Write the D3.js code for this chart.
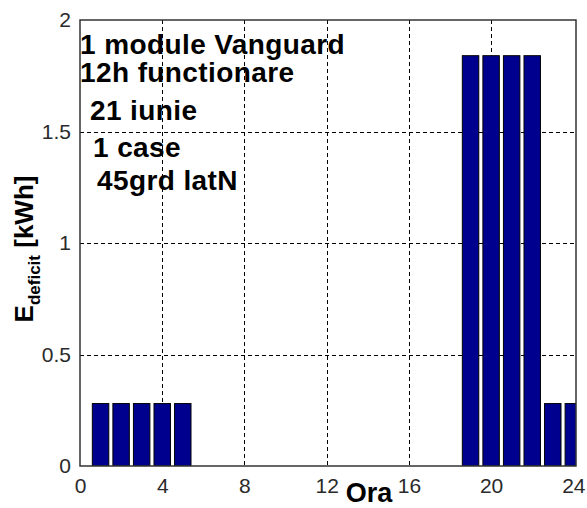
<!DOCTYPE html>
<html>
<head>
<meta charset="utf-8">
<script src="https://cdn.jsdelivr.net/npm/d3@7"></script>
<style>
  html, body { margin: 0; padding: 0; background: #fff; }
  svg { display: block; }
</style>
</head>
<body>
<div id="chart"></div>
<script>
// Hourly energy deficit over one day
const hours = d3.range(1, 25);
const deficit = [0.28, 0.28, 0.28, 0.28, 0.28, 0, 0, 0, 0, 0, 0, 0,
                 0, 0, 0, 0, 0, 0, 1.84, 1.84, 1.84, 1.84, 0.28, 0.28];
const xTicks = [0, 4, 8, 12, 16, 20, 24];
const yTicks = [0, 0.5, 1, 1.5, 2];
const notes = ["1 module Vanguard", "12h functionare", "21 iunie", "1 case", "45grd latN"];

const W = 587, H = 508;
const plot = { left: 80, top: 20, right: 576, bottom: 466 };
const FONT = "'Liberation Sans', Arial, Helvetica, sans-serif";

const svg = d3.select("#chart").append("svg")
  .attr("width", W).attr("height", H);

const x = d3.scaleLinear().domain([0, 24.13]).range([plot.left, plot.right]);
const y = d3.scaleLinear().domain([0, 2]).range([plot.bottom, plot.top]);

svg.append("defs").append("clipPath").attr("id", "plotClip")
  .append("rect")
  .attr("x", plot.left).attr("y", plot.top)
  .attr("width", plot.right - plot.left).attr("height", plot.bottom - plot.top);

// dashed grid
const grid = svg.append("g").attr("stroke", "#000").attr("stroke-width", 1)
  .attr("stroke-dasharray", "4,3").attr("fill", "none");
grid.selectAll("line.gx").data(xTicks.filter(t => t > 0 && t < 24)).join("line")
  .attr("x1", d => Math.round(x(d)) + 0.5).attr("x2", d => Math.round(x(d)) + 0.5)
  .attr("y1", plot.top).attr("y2", plot.bottom);
grid.selectAll("line.gy").data(yTicks.filter(t => t > 0 && t < 2)).join("line")
  .attr("x1", plot.left).attr("x2", plot.right)
  .attr("y1", d => Math.round(y(d)) + 0.5).attr("y2", d => Math.round(y(d)) + 0.5);

// bars
const barW = 0.8;
svg.append("g").attr("clip-path", "url(#plotClip)")
  .selectAll("rect").data(hours.map((h, i) => ({ h, v: deficit[i] })).filter(d => d.v > 0))
  .join("rect")
  .attr("x", d => x(d.h - barW / 2))
  .attr("width", d => x(d.h + barW / 2) - x(d.h - barW / 2))
  .attr("y", d => y(d.v))
  .attr("height", d => y(0) - y(d.v))
  .attr("fill", "#00008f")
  .attr("stroke", "#000")
  .attr("stroke-width", 1);

// frame
svg.append("rect")
  .attr("x", plot.left).attr("y", plot.top)
  .attr("width", plot.right - plot.left).attr("height", plot.bottom - plot.top)
  .attr("fill", "none").attr("stroke", "#333").attr("stroke-width", 1.5);

// axes labels via d3 axes (domain/tick lines hidden, frame drawn above)
const xAxis = svg.append("g")
  .attr("transform", `translate(0,${plot.bottom})`)
  .call(d3.axisBottom(x).tickValues(xTicks).tickSize(0).tickPadding(12).tickFormat(d3.format("d")));
const yAxis = svg.append("g")
  .attr("transform", `translate(${plot.left},0)`)
  .call(d3.axisLeft(y).tickValues(yTicks).tickSize(0).tickPadding(9).tickFormat(d => String(d)));
[xAxis, yAxis].forEach(a => {
  a.select(".domain").remove();
  a.selectAll("text").attr("font-family", FONT).attr("font-size", 21)
    .attr("fill", "#2a2a2a");
});
xAxis.selectAll("text").attr("dy", "0.72em");

// x label
svg.append("text")
  .attr("x", 369).attr("y", 502)
  .attr("text-anchor", "middle")
  .attr("font-family", FONT).attr("font-weight", "bold").attr("font-size", 27)
  .attr("fill", "#000")
  .text("Ora");

// y label: E_deficit [kWh]
const yl = svg.append("text")
  .attr("transform", "translate(33,249) rotate(-90)")
  .attr("text-anchor", "middle")
  .attr("font-family", FONT).attr("font-weight", "bold").attr("fill", "#000");
yl.append("tspan").attr("font-size", 26).text("E");
yl.append("tspan").attr("font-size", 17).attr("dy", 7).text("deficit");
yl.append("tspan").attr("font-size", 26).attr("dy", -7).text(" [kWh]");

// annotation block
const noteX = [80, 80, 90, 93, 97];
const noteY = [54, 82, 120, 157, 190];
svg.append("g").selectAll("text").data(notes).join("text")
  .attr("x", (d, i) => noteX[i]).attr("y", (d, i) => noteY[i])
  .attr("font-family", FONT).attr("font-weight", "bold").attr("font-size", 28)
  .attr("letter-spacing", 0.4)
  .attr("fill", "#000")
  .text(d => d);
</script>
</body>
</html>
